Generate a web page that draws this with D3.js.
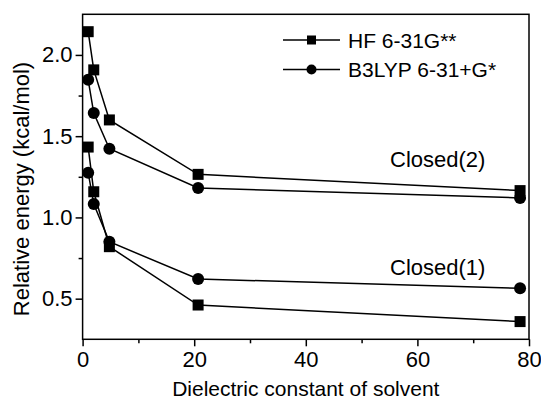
<!DOCTYPE html>
<html lang="en">
<head>
  <meta charset="UTF-8">
  <title>Relative energy vs dielectric constant</title>
  <script src="https://d3js.org/d3.v7.min.js"></script>
  <style>
    body { margin: 0; background: #fff; }
    svg { display: block; font-family: "Liberation Sans", Arial, sans-serif; }
    .axis text { font-size: 22px; fill: #000; }
    .axis path, .axis line { stroke: #000; stroke-width: 1.5; }
    .title { font-size: 21px; }
    .legend-text { font-size: 21px; }
    .note { font-size: 22px; }
  </style>
</head>
<body>
  <div id="chart"></div>
  <script>
    // dielectric constants of the solvents (x)
    const dielectric = [1, 2, 4.8, 20.7, 78.4];

    // relative energies (kcal/mol)
    const hfClosed2 = [2.143, 1.908, 1.600, 1.265, 1.165];
    const b3Closed2 = [1.847, 1.642, 1.423, 1.181, 1.120];
    const hfClosed1 = [1.433, 1.158, 0.820, 0.461, 0.359];
    const b3Closed1 = [1.275, 1.082, 0.850, 0.621, 0.564];

    const xTicks = [0, 20, 40, 60, 80];
    const xMinor = [10, 30, 50, 70];
    const yTicks = [0.5, 1.0, 1.5, 2.0];
    const yMinor = [0.75, 1.25, 1.75];

    const W = 541, H = 404;
    const margin = { top: 14.3, right: 12, bottom: 64.7, left: 82.6 };

    const svg = d3.select("#chart").append("svg")
      .attr("width", W)
      .attr("height", H);

    const x = d3.scaleLinear().domain([0, 80]).range([margin.left, W - margin.right]);
    const y = d3.scaleLinear().domain([0.25, 2.25]).range([H - margin.bottom, margin.top]);

    // frame
    svg.append("rect")
      .attr("x", x(0)).attr("y", y(2.25))
      .attr("width", x(80) - x(0)).attr("height", y(0.25) - y(2.25))
      .attr("fill", "none").attr("stroke", "#000").attr("stroke-width", 1.5);

    // axes
    svg.append("g").attr("class", "axis")
      .attr("transform", `translate(0,${y(0.25)})`)
      .call(d3.axisBottom(x).tickValues(xTicks).tickSize(7).tickSizeOuter(0).tickPadding(5))
      .call(g => g.select(".domain").remove());
    svg.append("g").attr("class", "axis")
      .attr("transform", `translate(0,${y(0.25)})`)
      .call(d3.axisBottom(x).tickValues(xMinor).tickSize(4).tickFormat(""))
      .call(g => g.select(".domain").remove());

    svg.append("g").attr("class", "axis")
      .attr("transform", `translate(${x(0)},0)`)
      .call(d3.axisLeft(y).tickValues(yTicks).tickFormat(d3.format(".1f")).tickSize(7).tickPadding(3))
      .call(g => g.select(".domain").remove());
    svg.append("g").attr("class", "axis")
      .attr("transform", `translate(${x(0)},0)`)
      .call(d3.axisLeft(y).tickValues(yMinor).tickSize(4).tickFormat(""))
      .call(g => g.select(".domain").remove());

    // axis titles
    svg.append("text").attr("class", "title")
      .attr("x", (x(0) + x(80)) / 2).attr("y", 396)
      .attr("text-anchor", "middle")
      .text("Dielectric constant of solvent");

    svg.append("text").attr("class", "title")
      .attr("transform", "translate(29,189) rotate(-90)")
      .attr("text-anchor", "middle")
      .style("font-size", "22px")
      .text("Relative energy (kcal/mol)");

    // series
    const series = [
      { vals: b3Closed2, shape: "circle" },
      { vals: hfClosed2, shape: "square" },
      { vals: b3Closed1, shape: "circle" },
      { vals: hfClosed1, shape: "square" }
    ];

    const line = d3.line().x(d => x(d[0])).y(d => y(d[1]));

    series.forEach(s => {
      const pts = dielectric.map((d, i) => [d, s.vals[i]]);
      svg.append("path").datum(pts)
        .attr("fill", "none").attr("stroke", "#000").attr("stroke-width", 1.5)
        .attr("d", line);
    });

    series.forEach(s => {
      const pts = dielectric.map((d, i) => [d, s.vals[i]]);
      if (s.shape === "circle") {
        svg.selectAll(null).data(pts).enter().append("circle")
          .attr("cx", d => x(d[0])).attr("cy", d => y(d[1]))
          .attr("r", 6).attr("fill", "#000");
      } else {
        svg.selectAll(null).data(pts).enter().append("rect")
          .attr("x", d => x(d[0]) - 5.5).attr("y", d => y(d[1]) - 5.5)
          .attr("width", 11).attr("height", 11).attr("fill", "#000");
      }
    });

    // legend
    const legend = [
      { label: "HF 6-31G**", shape: "square", yy: 40 },
      { label: "B3LYP 6-31+G*", shape: "circle", yy: 69.5 }
    ];
    legend.forEach(l => {
      const g = svg.append("g");
      g.append("line").attr("x1", 283).attr("x2", 340).attr("y1", l.yy).attr("y2", l.yy)
        .attr("stroke", "#000").attr("stroke-width", 1.5);
      if (l.shape === "square") {
        g.append("rect").attr("x", 311.5 - 4.5).attr("y", l.yy - 4.5)
          .attr("width", 9).attr("height", 9).attr("fill", "#000");
      } else {
        g.append("circle").attr("cx", 311.5).attr("cy", l.yy).attr("r", 5).attr("fill", "#000");
      }
      g.append("text").attr("class", "legend-text")
        .attr("x", 348).attr("y", l.yy + 7.5)
        .text(l.label);
    });

    // annotations
    svg.append("text").attr("class", "note").attr("x", 390).attr("y", 167).text("Closed(2)");
    svg.append("text").attr("class", "note").attr("x", 390).attr("y", 275).text("Closed(1)");
  </script>
</body>
</html>
